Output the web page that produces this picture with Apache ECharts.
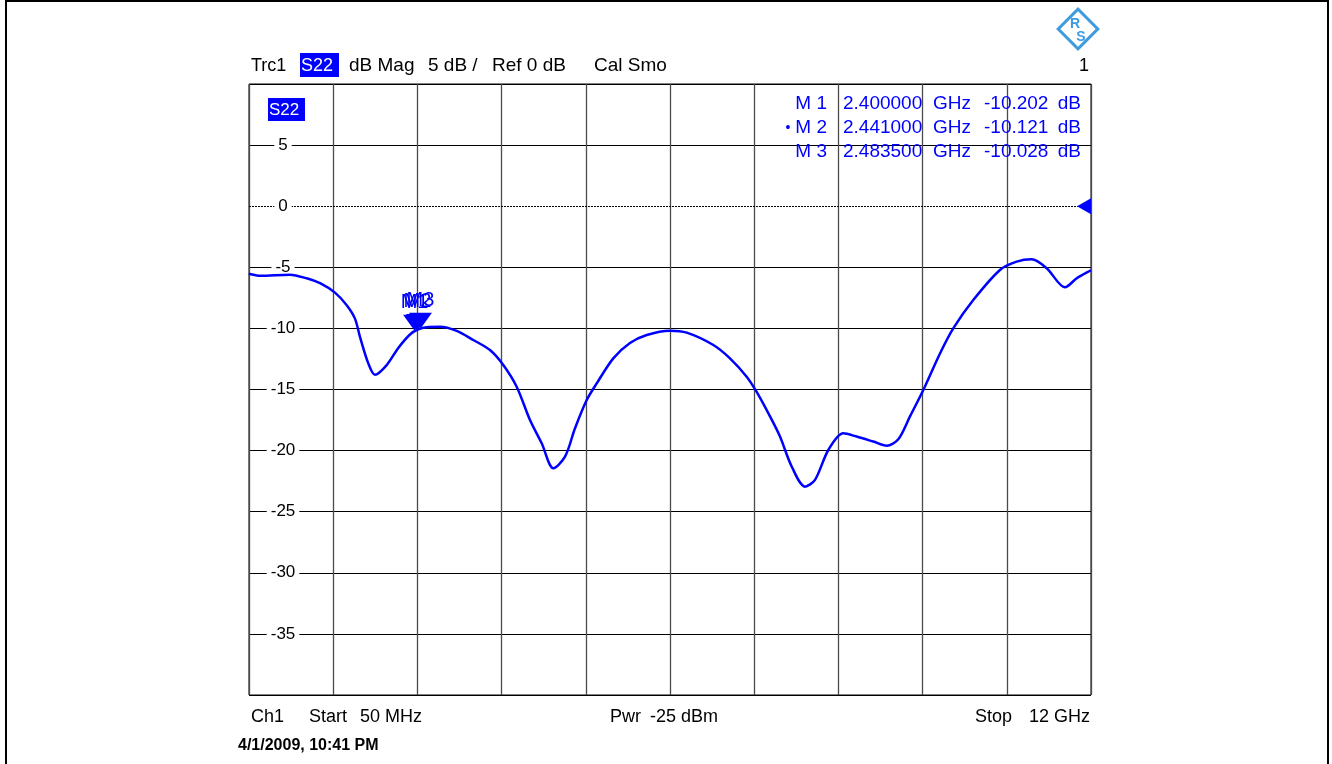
<!DOCTYPE html>
<html>
<head>
<meta charset="utf-8">
<script src="https://cdn.jsdelivr.net/npm/echarts@6/dist/echarts.min.js"></script>
<style>
html,body{margin:0;padding:0;background:#fff;}
#chart{width:1332px;height:764px;}
</style>
</head>
<body>
<div id="chart"></div>
<script>
// ---- data ----
const freqGHz = [0.05, 0.064, 0.206, 0.632, 0.869, 1.058, 1.27, 1.437, 1.554, 1.625, 1.743, 1.838, 2.004, 2.169, 2.335, 2.453, 2.572, 2.761, 2.998, 3.233, 3.47, 3.659, 3.849, 4.038, 4.204, 4.369, 4.535, 4.677, 4.843, 4.985, 5.22, 5.457, 5.694, 6.025, 6.262, 6.64, 6.876, 7.113, 7.255, 7.444, 7.586, 7.752, 7.941, 8.083, 8.272, 8.484, 8.674, 8.91, 9.1, 9.265, 9.431, 9.62, 9.857, 10.045, 10.329, 10.708, 10.945, 11.158, 11.371, 11.631, 11.797, 11.985, 12.0];
const s22dB = [-5.5, -5.55, -5.7, -5.6, -5.9, -6.3, -7.07, -8.1, -9.2, -10.7, -12.86, -13.8, -13.0, -11.6, -10.5, -10.07, -9.9, -9.86, -10.2, -10.95, -11.77, -12.99, -14.77, -17.5, -19.4, -21.45, -20.5, -18.17, -15.86, -14.5, -12.45, -11.2, -10.54, -10.19, -10.35, -11.36, -12.45, -13.95, -15.2, -17.2, -18.85, -21.3, -22.95, -22.4, -19.95, -18.58, -18.85, -19.26, -19.6, -19.07, -17.2, -15.04, -12.05, -10.0, -7.68, -5.22, -4.54, -4.35, -5.08, -6.64, -5.9, -5.28, -5.25];

const markerNames = ['M 1', 'M 2', 'M 3'];
const markerShort = ['M1', 'M2', 'M3'];
const markerFreqGHz = [2.4, 2.441, 2.4835];
const markerDB = [-10.202, -10.121, -10.028];
const markerFreqText = ['2.400000', '2.441000', '2.483500'];
const markerDBText = ['-10.202', '-10.121', '-10.028'];

const yMin = -40, yMax = 10, yStep = 5;
const refLevel = 0;
const xStart = 0.05, xStop = 12;
const divisions = 10;

// ---- chart ----
const FONT = 'Liberation Sans, Arial, sans-serif';
const BLUE = '#0000ff';
const chart = echarts.init(document.getElementById('chart'), null, {renderer: 'canvas'});

const G = {left: 249, top: 84, width: 842, height: 611};

// split line colours: hide the one at the reference level (drawn dotted separately)
const nTicks = Math.round((yMax - yMin) / yStep) + 1;
const hColors = [];
for (let i = 0; i < nTicks; i++) {
  const v = yMin + i * yStep;
  hColors.push(v === refLevel ? 'rgba(0,0,0,0)' : '#000');
}

const points = freqGHz.map((f, i) => [f, s22dB[i]]);

const graphics = [];
function txt(x, y, text, opt) {
  graphics.push({
    type: 'text', x: x, y: y, z: 100,
    style: Object.assign({text: text, fill: '#000', font: '18px ' + FONT, textVerticalAlign: 'middle', textAlign: 'left'}, opt || {})
  });
}
// outer frame
graphics.push({type: 'rect', shape: {x: 6, y: 1, width: 1322, height: 800}, style: {fill: 'none', stroke: '#000', lineWidth: 2}, z: 100});
// header
txt(251, 66, 'Trc1');
graphics.push({type: 'rect', shape: {x: 300, y: 53, width: 39, height: 24}, style: {fill: BLUE}, z: 100});
txt(301, 66, 'S22', {fill: '#fff'});
txt(349, 66, 'dB Mag', {font: '19px ' + FONT});
txt(428, 66, '5 dB /', {font: '19px ' + FONT});
txt(492, 66, 'Ref 0 dB', {font: '19px ' + FONT});
txt(594, 66, 'Cal Smo', {font: '19px ' + FONT});
txt(1089, 66, '1', {textAlign: 'right'});
// trace label inside plot
graphics.push({type: 'rect', shape: {x: 268, y: 98, width: 37, height: 23}, style: {fill: BLUE}, z: 100});
txt(269, 110, 'S22', {fill: '#fff', font: '17px ' + FONT});
// marker table
const rowY = [104, 128, 152];
const MF = '19px ' + FONT;
for (let i = 0; i < 3; i++) {
  txt(827, rowY[i], markerNames[i], {textAlign: 'right', fill: BLUE, font: MF});
  txt(843, rowY[i], markerFreqText[i], {fill: BLUE, font: MF});
  txt(933, rowY[i], 'GHz', {fill: BLUE, font: MF});
  txt(984, rowY[i], markerDBText[i], {fill: BLUE, font: MF});
  txt(1081, rowY[i], 'dB', {textAlign: 'right', fill: BLUE, font: MF});
}
txt(788, 128, '\u2022', {fill: BLUE, textAlign: 'center', font: '14px ' + FONT});
// footer
txt(251, 717, 'Ch1');
txt(309, 717, 'Start');
txt(360, 717, '50 MHz');
txt(610, 717, 'Pwr');
txt(650, 717, '-25 dBm');
txt(975, 717, 'Stop');
txt(1090, 717, '12 GHz', {textAlign: 'right'});
txt(238, 746, '4/1/2009, 10:41 PM', {font: 'bold 16px ' + FONT});
// R&S logo
graphics.push({
  type: 'group', x: 1078, y: 29, z: 100,
  children: [
    {type: 'rect', shape: {x: -14, y: -14, width: 28, height: 28}, rotation: Math.PI / 4, style: {fill: '#fff', stroke: '#3d9be0', lineWidth: 3}},
    {type: 'text', style: {x: -3, y: -5, text: 'R', fill: '#3d9be0', font: 'bold 14px ' + FONT, textAlign: 'center', textVerticalAlign: 'middle'}},
    {type: 'text', style: {x: 3, y: 8, text: 'S', fill: '#3d9be0', font: 'bold 14px ' + FONT, textAlign: 'center', textVerticalAlign: 'middle'}}
  ]
});

const option = {
  animation: false,
  backgroundColor: '#fff',
  grid: {left: G.left, top: G.top, width: G.width, height: G.height, show: true, borderColor: '#000', borderWidth: 1, backgroundColor: '#fff'},
  xAxis: [
    {type: 'value', min: xStart, max: xStop, show: true, axisLine: {show: false}, axisTick: {show: false}, axisLabel: {show: false}, splitLine: {show: false}},
    {type: 'value', min: 0, max: divisions, interval: 1, axisLine: {show: false}, axisTick: {show: false}, axisLabel: {show: false},
     splitLine: {show: true, lineStyle: {color: '#4a4a4a', width: 1.3}}}
  ],
  yAxis: [
    {type: 'value', position: 'left', min: yMin, max: yMax, interval: yStep, axisLine: {show: false}, axisTick: {show: false}, axisLabel: {show: false},
     splitLine: {show: true, lineStyle: {color: hColors, width: 1}}},
    {type: 'value', position: 'left', offset: 0, min: yMin, max: yMax, interval: yStep, z: 4, axisLine: {show: false}, axisTick: {show: false}, splitLine: {show: false},
     axisLabel: {show: true, inside: true, margin: 34, align: 'center', showMinLabel: false, showMaxLabel: false,
       color: '#000', fontFamily: FONT, fontSize: 17, lineHeight: 13, backgroundColor: '#fff', padding: [0, 4, 0, 4]}}
  ],
  series: [{
    type: 'line', xAxisIndex: 0, yAxisIndex: 0, data: points, showSymbol: false, smooth: 0.3,
    lineStyle: {color: BLUE, width: 2.5}, z: 5,
    markLine: {
      silent: true, symbol: 'none', z: 2,
      lineStyle: {color: '#000', type: [2, 1], width: 1},
      label: {show: false},
      data: [{yAxis: refLevel}]
    },
    markPoint: {
      silent: true, z: 6,
      data: markerFreqGHz.map((f, i) => ({
        coord: [f, markerDB[i]], symbol: 'triangle', symbolRotate: 180, symbolSize: [23, 16], symbolOffset: [0, -8],
        itemStyle: {color: BLUE},
        label: {show: true, position: 'top', distance: 2, formatter: markerShort[i], color: BLUE, fontFamily: FONT, fontSize: 20}
      })).concat([{
        coord: [xStop, refLevel], symbol: 'triangle', symbolRotate: 90, symbolSize: [16, 14], symbolOffset: [-7, 0],
        itemStyle: {color: BLUE}, label: {show: false}
      }])
    }
  }],
  graphic: graphics
};
chart.setOption(option);
</script>
</body>
</html>
